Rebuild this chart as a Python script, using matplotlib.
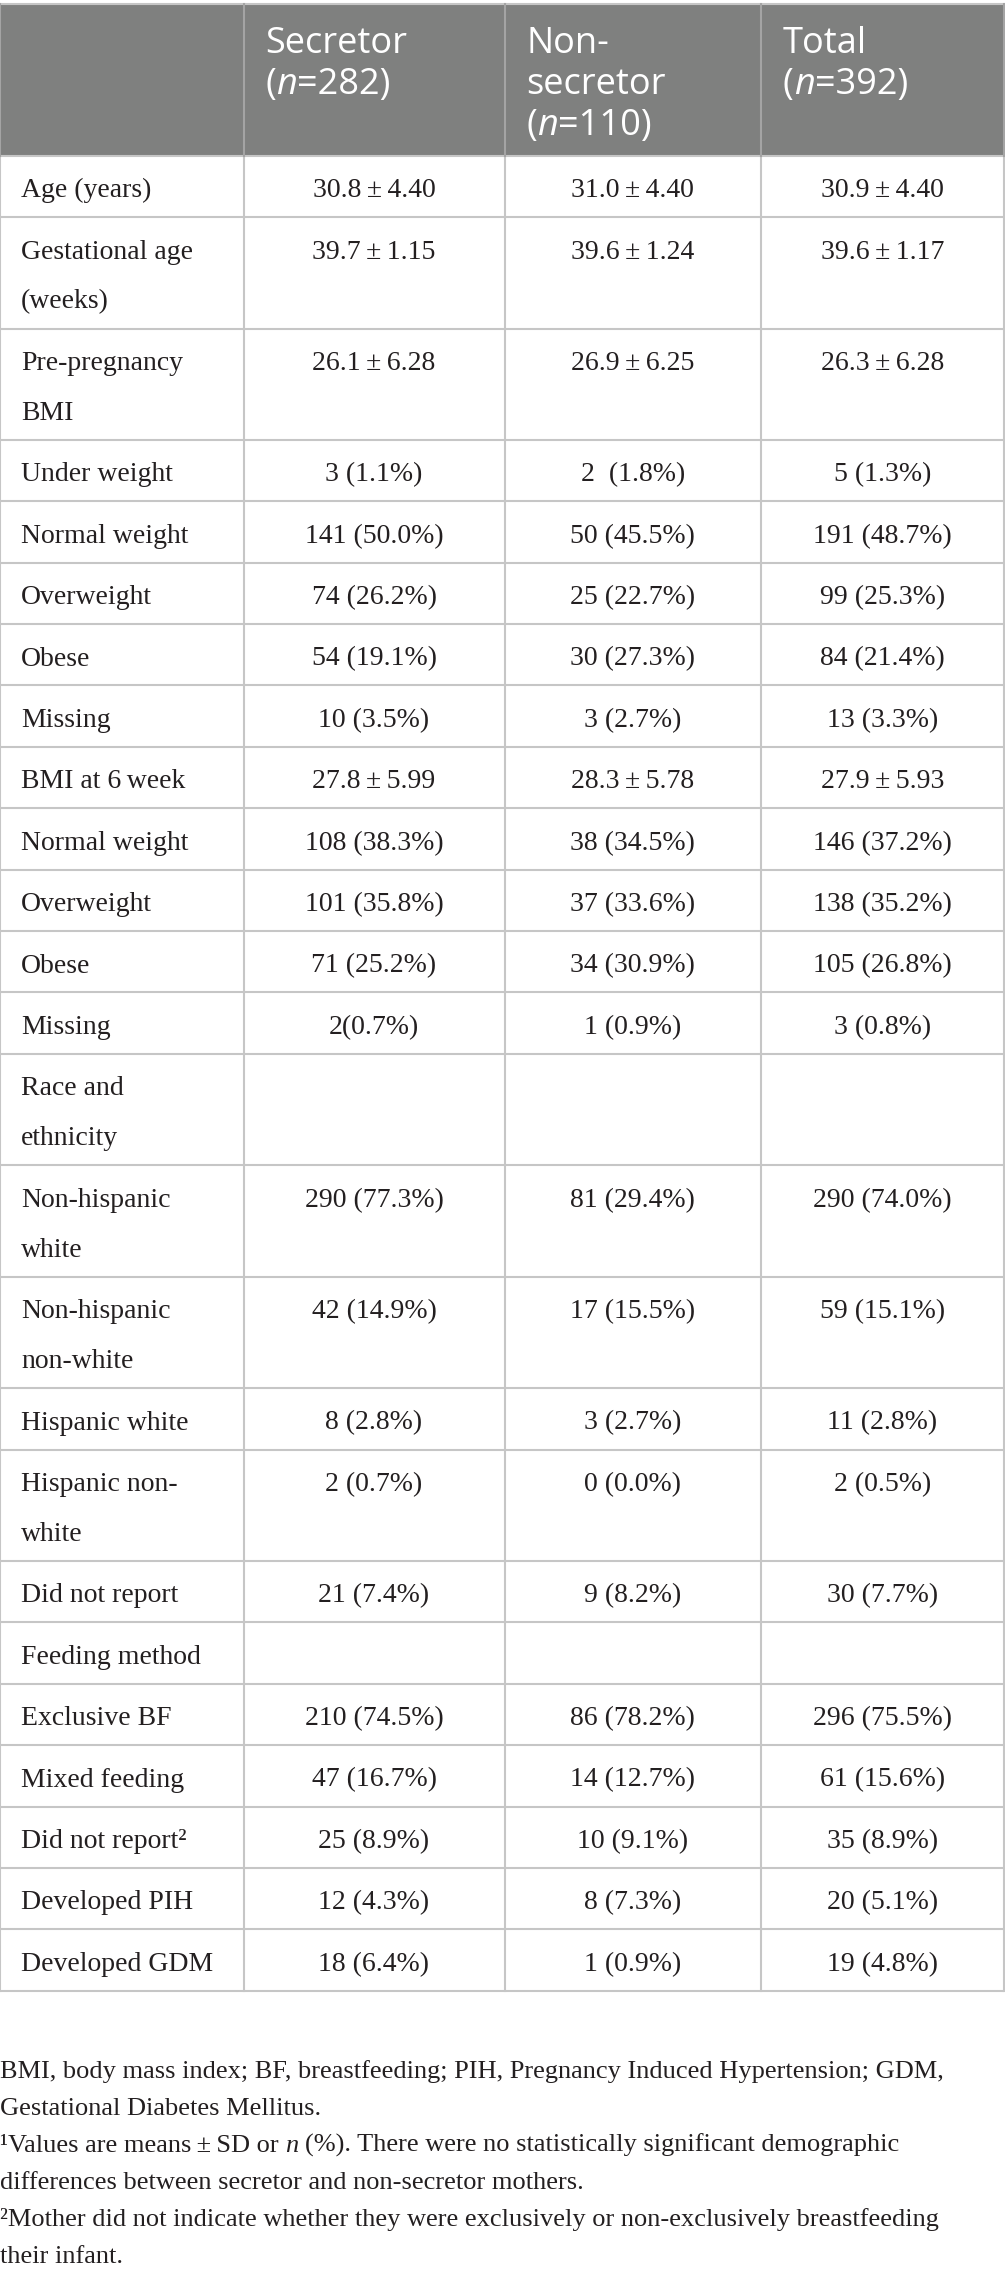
import matplotlib
matplotlib.use("Agg")
import matplotlib.pyplot as plt

# table content
col_heads = [
    [[("Secretor", "n")], [("(", "n"), ("n", "i"), ("=282)", "n")]],
    [[("Non-", "n")], [("secretor", "n")], [("(", "n"), ("n", "i"), ("=110)", "n")]],
    [[("Total", "n")], [("(", "n"), ("n", "i"), ("=392)", "n")]],
]
labels = ["Age (years)", "Gestational age\n(weeks)", "Pre-pregnancy\nBMI",
          "Under weight", "Normal weight", "Overweight", "Obese", "Missing",
          "BMI at 6\u2009week", "Normal weight", "Overweight", "Obese", "Missing",
          "Race and\nethnicity", "Non-hispanic\nwhite", "Non-hispanic\nnon-white",
          "Hispanic white", "Hispanic non-\nwhite", "Did not report",
          "Feeding method", "Exclusive BF", "Mixed feeding", "Did not report\u00b2",
          "Developed PIH", "Developed GDM"]
PM = "\u2009\u00b1\u2009"
secretor = ["30.8" + PM + "4.40", "39.7" + PM + "1.15", "26.1" + PM + "6.28",
            "3 (1.1%)", "141 (50.0%)", "74 (26.2%)", "54 (19.1%)", "10 (3.5%)",
            "27.8" + PM + "5.99", "108 (38.3%)", "101 (35.8%)", "71 (25.2%)", "2(0.7%)",
            "", "290 (77.3%)", "42 (14.9%)", "8 (2.8%)", "2 (0.7%)", "21 (7.4%)",
            "", "210 (74.5%)", "47 (16.7%)", "25 (8.9%)", "12 (4.3%)", "18 (6.4%)"]
non_secretor = ["31.0" + PM + "4.40", "39.6" + PM + "1.24", "26.9" + PM + "6.25",
                "2  (1.8%)", "50 (45.5%)", "25 (22.7%)", "30 (27.3%)", "3 (2.7%)",
                "28.3" + PM + "5.78", "38 (34.5%)", "37 (33.6%)", "34 (30.9%)", "1 (0.9%)",
                "", "81 (29.4%)", "17 (15.5%)", "3 (2.7%)", "0 (0.0%)", "9 (8.2%)",
                "", "86 (78.2%)", "14 (12.7%)", "10 (9.1%)", "8 (7.3%)", "1 (0.9%)"]
total = ["30.9" + PM + "4.40", "39.6" + PM + "1.17", "26.3" + PM + "6.28",
         "5 (1.3%)", "191 (48.7%)", "99 (25.3%)", "84 (21.4%)", "13 (3.3%)",
         "27.9" + PM + "5.93", "146 (37.2%)", "138 (35.2%)", "105 (26.8%)", "3 (0.8%)",
         "", "290 (74.0%)", "59 (15.1%)", "11 (2.8%)", "2 (0.5%)", "30 (7.7%)",
         "", "296 (75.5%)", "61 (15.6%)", "35 (8.9%)", "20 (5.1%)", "19 (4.8%)"]
footnotes = [
    [("BMI, body mass index; BF, breastfeeding; PIH, Pregnancy Induced Hypertension; GDM,", "n")],
    [("Gestational Diabetes Mellitus.", "n")],
    [("\u00b9Values are means" + PM + "SD or", "n"), (" ", "s"), ("n", "i"), (" ", "s"),
     ("(%). There were no statistically significant demographic", "n")],
    [("differences between secretor and non-secretor mothers.", "n")],
    [("\u00b2Mother did not indicate whether they were exclusively or non-exclusively breastfeeding", "n")],
    [("their infant.", "n")],
]

W, H = 1005, 2280
HEAD_BG = "#7f807f"
GRID = "#c6c6c6"
INK = "#231f20"
SERIF = ["Liberation Serif", "DejaVu Serif"]
SANS = ["Open Sans", "DejaVu Sans"]

col_x = [0, 243.5, 504.5, 761, 1004]
top = 4
head_bot = 155.7
row_h1 = 61.4
line_gap = 50

fig = plt.figure(figsize=(W / 100, H / 100), dpi=100)
ax = fig.add_axes([0, 0, 1, 1])
ax.set_xlim(0, W)
ax.set_ylim(H, 0)
ax.axis("off")
renderer = fig.canvas.get_renderer()


def run_text(x, y, runs, family, size, color):
    # draws pieces of text one after another (for italic n etc)
    sp = None
    for txt, st in runs:
        if st == "s":
            if sp is None:
                a = ax.text(0, 0, "a a", family=family, fontsize=size)
                b = ax.text(0, 0, "aa", family=family, fontsize=size)
                sp = a.get_window_extent(renderer).width - b.get_window_extent(renderer).width
                a.remove()
                b.remove()
            x += sp
            continue
        t = ax.text(x, y, txt, family=family, fontsize=size, color=color,
                    style="italic" if st == "i" else "normal", va="baseline", ha="left")
        x += t.get_window_extent(renderer).width


# header
ax.add_patch(plt.Rectangle((0, top), col_x[-1], head_bot - top, color=HEAD_BG, lw=0))
for j, head in enumerate(col_heads):
    for k, line in enumerate(head):
        run_text(col_x[j + 1] + 22, top + 49 + k * 41, line, SANS, 26, "white")

# body rows
y = head_bot
row_edges = [y]
for i, lab in enumerate(labels):
    lines = lab.split("\n")
    for k, ln in enumerate(lines):
        ax.text(21, y + 41.5 + k * line_gap, ln, family=SERIF, fontsize=20,
                color=INK, va="baseline", ha="left")
    for j, col in enumerate([secretor, non_secretor, total]):
        if col[i]:
            ax.text((col_x[j + 1] + col_x[j + 2]) / 2, y + 41.5, col[i], family=SERIF,
                    fontsize=20, color=INK, va="baseline", ha="center")
    y += row_h1 + (len(lines) - 1) * line_gap
    row_edges.append(y)

# grid
for ye in row_edges:
    ax.plot([0, col_x[-1]], [ye, ye], color=GRID, lw=1.5, solid_capstyle="butt")
ax.plot([0, col_x[-1]], [top, top], color=GRID, lw=1.5)
for xe in col_x:
    ax.plot([xe, xe], [head_bot, row_edges[-1]], color=GRID, lw=1.5)
    ax.plot([xe, xe], [top, head_bot], color="#a4a4a4", lw=1.5)

# footnotes
for k, runs in enumerate(footnotes):
    run_text(0, 2078 + k * 37, runs, SERIF, 19, INK)

fig.savefig("out.png", dpi=100)
